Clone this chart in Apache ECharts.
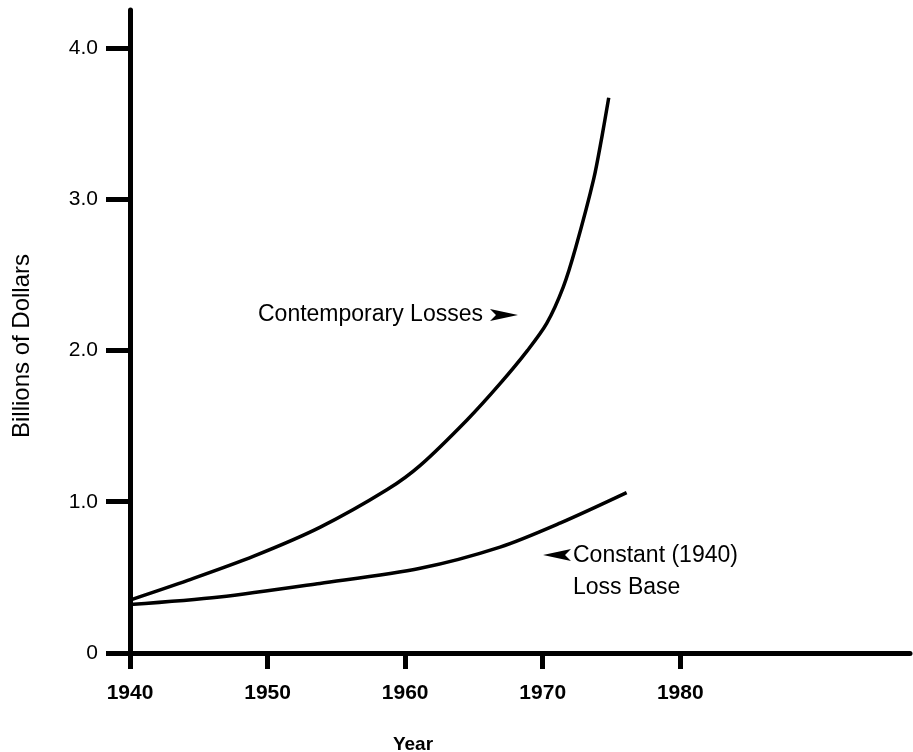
<!DOCTYPE html>
<html>
<head>
<meta charset="utf-8">
<title>Losses</title>
<script src="https://cdn.jsdelivr.net/npm/echarts@6/dist/echarts.min.js"></script>
<style>
  html, body { margin: 0; padding: 0; background: #fff; }
  #chart { width: 913px; height: 752px; }
</style>
</head>
<body>
<div id="chart"></div>
<script>
// data
var contempYears = [1940, 1944.2, 1949, 1953.8, 1958.7, 1961.1, 1964.5, 1966.9, 1968.9, 1970.3, 1971.5, 1972.4, 1973.7, 1974.3, 1974.8];
var contempValues = [0.35, 0.48, 0.64, 0.83, 1.08, 1.24, 1.54, 1.78, 2.00, 2.18, 2.42, 2.68, 3.13, 3.41, 3.67];
var constYears = [1940, 1946.5, 1953.8, 1961.1, 1966.9, 1971.3, 1976.1];
var constValues = [0.32, 0.37, 0.46, 0.56, 0.70, 0.86, 1.06];
var xTicks = [1940, 1950, 1960, 1970, 1980];
var yTicks = [0, 1, 2, 3, 4];
var yTickLabels = ["0", "1.0", "2.0", "3.0", "4.0"];

var font = "'Liberation Sans', Arial, Helvetica, sans-serif";

function pairs(xs, ys) {
  return xs.map(function (x, i) { return [x, ys[i]]; });
}

var chart = echarts.init(document.getElementById("chart"));

var option = {
  backgroundColor: "#fff",
  animation: false,
  grid: {
    left: 130,
    right: 3,
    top: 10,
    bottom: 99,
    outerBoundsMode: "none"
  },
  xAxis: {
    type: "value",
    min: 1940,
    max: 1996.7,
    splitLine: { show: false },
    axisLine: { lineStyle: { color: "#000", width: 5 } },
    axisTick: {
      customValues: xTicks,
      length: 16,
      lineStyle: { color: "#000", width: 5 }
    },
    axisLabel: {
      customValues: xTicks,
      margin: 30,
      color: "#000",
      fontSize: 21,
      fontWeight: "bold",
      fontFamily: font,
      formatter: function (v) {
        return String(v);
      }
    }
  },
  yAxis: {
    type: "value",
    min: 0,
    max: 4.25,
    splitLine: { show: false },
    axisLine: { lineStyle: { color: "#000", width: 5 } },
    axisTick: {
      customValues: yTicks,
      length: 24,
      lineStyle: { color: "#000", width: 5 }
    },
    axisLabel: {
      customValues: yTicks,
      margin: 32,
      color: "#000",
      fontSize: 21,
      fontFamily: font,
      formatter: function (v) {
        return yTickLabels[yTicks.indexOf(v)];
      }
    }
  },
  series: [
    {
      name: "Contemporary Losses",
      type: "line",
      data: pairs(contempYears, contempValues),
      smooth: 0.3,
      showSymbol: false,
      lineStyle: { color: "#000", width: 3.5 },
      z: 1
    },
    {
      name: "Constant (1940) Loss Base",
      type: "line",
      data: pairs(constYears, constValues),
      smooth: 0.3,
      showSymbol: false,
      lineStyle: { color: "#000", width: 3.5 },
      z: 1
    }
  ],
  // labels and arrows placed like the original
  graphic: [
    {
      type: "text",
      x: 22, y: 346,
      rotation: Math.PI / 2,
      style: {
        text: "Billions of Dollars",
        fill: "#000",
        font: "24px " + font,
        textAlign: "center",
        textVerticalAlign: "middle"
      }
    },
    {
      type: "text",
      x: 413, y: 745,
      style: {
        text: "Year",
        fill: "#000",
        font: "bold 19px " + font,
        textAlign: "center",
        textVerticalAlign: "middle"
      }
    },
    {
      type: "text",
      x: 258, y: 315,
      style: {
        text: "Contemporary Losses",
        fill: "#000",
        font: "23px " + font,
        textAlign: "left",
        textVerticalAlign: "middle"
      }
    },
    {
      type: "polygon",
      shape: { points: [[490, 309], [518, 315], [490, 321], [496, 315]] },
      style: { fill: "#000" }
    },
    {
      type: "text",
      x: 573, y: 556,
      style: {
        text: "Constant (1940)",
        fill: "#000",
        font: "23px " + font,
        textAlign: "left",
        textVerticalAlign: "middle"
      }
    },
    {
      type: "text",
      x: 573, y: 588,
      style: {
        text: "Loss Base",
        fill: "#000",
        font: "23px " + font,
        textAlign: "left",
        textVerticalAlign: "middle"
      }
    },
    {
      type: "polygon",
      shape: { points: [[571, 549], [543, 555], [571, 561], [565, 555]] },
      style: { fill: "#000" }
    }
  ]
};

chart.setOption(option);
window.addEventListener("resize", function () {
  chart.resize();
});
</script>
</body>
</html>
